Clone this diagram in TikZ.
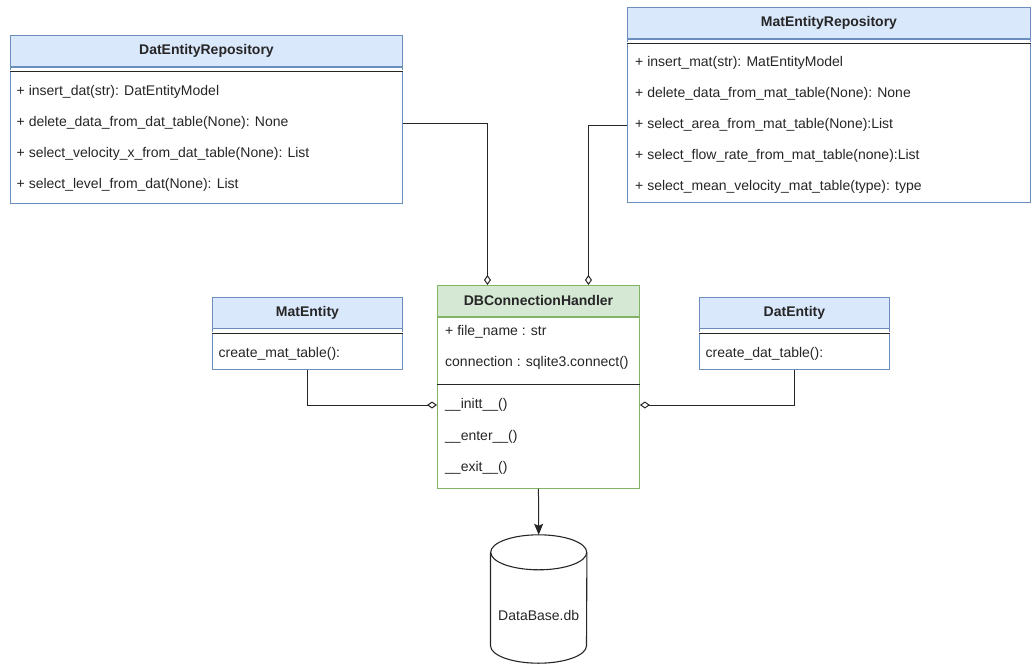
\documentclass[tikz,border=0pt]{standalone}
\usepackage{fontspec}
\setmainfont{Liberation Sans}
\usetikzlibrary{arrows.meta}

\definecolor{hdblue}{HTML}{DAE8FC}
\definecolor{lnblue}{HTML}{6C8EBF}
\definecolor{hdgreen}{HTML}{D5E8D4}
\definecolor{lngreen}{HTML}{82B366}
\definecolor{ink}{HTML}{262626}

\begin{document}
\begin{tikzpicture}[x=1pt,y=1pt]
\tikzset{every node/.style={font=\fontsize{14}{16}\selectfont, text=ink, inner sep=0pt}}
\tikzset{classhead/.style={anchor=north west, line width=0.9pt, font=\fontsize{14}{16}\selectfont\bfseries}}
\tikzset{bluehead/.style={classhead, draw=lnblue, fill=hdblue}}
\tikzset{greenhead/.style={classhead, draw=lngreen, fill=hdgreen}}
\tikzset{classbody/.style={anchor=north west, line width=0.9pt, fill=white}}
\tikzset{row/.style={anchor=west, text height=10pt, text depth=3pt}}
\tikzset{sepline/.style={draw=ink, line width=0.7pt, double=white, double distance=0.9pt}}
\tikzset{aggr/.style={draw=ink, line width=1pt, -{Diamond[open, length=10pt, width=7pt]}}}
\useasboundingbox (0,0) rectangle (1035,-664);

% DatEntityRepository
\node[bluehead, minimum width=392pt, minimum height=31pt] (darhead) at (10,-35) {DatEntityRepository};
\node[classbody, draw=lnblue, minimum width=392pt, minimum height=136pt] (darbody) at (darhead.south west) {};
\draw[sepline] ([yshift=-4pt]darbody.north west) -- ([yshift=-4pt]darbody.north east);
\node[row] (dar1) at (16.5,-92) {+ insert\_dat(str): DatEntityModel};
\node[row] (dar2) at (16.5,-123) {+ delete\_data\_from\_dat\_table(None): None};
\node[row] (dar3) at (16.5,-154) {+ select\_velocity\_x\_from\_dat\_table(None): List};
\node[row] (dar4) at (16.5,-185) {+ select\_level\_from\_dat(None): List};

% MatEntityRepository
\node[bluehead, minimum width=403pt, minimum height=31pt] (marhead) at (627,-7) {MatEntityRepository};
\node[classbody, draw=lnblue, minimum width=403pt, minimum height=163pt] (marbody) at (marhead.south west) {};
\draw[sepline] ([yshift=-4pt]marbody.north west) -- ([yshift=-4pt]marbody.north east);
\node[row] (mar1) at (635,-63) {+ insert\_mat(str): MatEntityModel};
\node[row] (mar2) at (635,-94) {+ delete\_data\_from\_mat\_table(None): None};
\node[row] (mar3) at (635,-125) {+ select\_area\_from\_mat\_table(None):List};
\node[row] (mar4) at (635,-156) {+ select\_flow\_rate\_from\_mat\_table(none):List};
\node[row] (mar5) at (635,-187) {+ select\_mean\_velocity\_mat\_table(type): type};

% MatEntity
\node[bluehead, minimum width=190pt, minimum height=30.5pt] (mehead) at (212,-297) {MatEntity};
\node[classbody, draw=lnblue, minimum width=190pt, minimum height=41pt] (mebody) at (mehead.south west) {};
\draw[sepline] ([yshift=-4.5pt]mebody.north west) -- ([yshift=-4.5pt]mebody.north east);
\node[row] (me1) at (218.5,-353.5) {create\_mat\_table():};

% DatEntity
\node[bluehead, minimum width=190pt, minimum height=30.5pt] (dehead) at (699,-297) {DatEntity};
\node[classbody, draw=lnblue, minimum width=190pt, minimum height=41pt] (debody) at (dehead.south west) {};
\draw[sepline] ([yshift=-4.5pt]debody.north west) -- ([yshift=-4.5pt]debody.north east);
\node[row] (de1) at (705.5,-354) {create\_dat\_table():};

% DBConnectionHandler
\node[greenhead, minimum width=202pt, minimum height=31pt] (dbhead) at (437,-285) {DBConnectionHandler};
\node[classbody, draw=lngreen, minimum width=202pt, minimum height=171pt] (dbbody) at (dbhead.south west) {};
\draw[draw=ink, line width=1pt] (dbbody.west |- 0,-384) -- (dbbody.east |- 0,-384);
\node[row] (dba1) at (445,-332) {+ file\_name : str};
\node[row] (dba2) at (445,-363) {connection : sqlite3.connect()};
\node[row] (dbm1) at (445,-405) {\_\_initt\_\_()};
\node[row] (dbm2) at (445,-437) {\_\_enter\_\_()};
\node[row] (dbm3) at (445,-468) {\_\_exit\_\_()};

% database file
\node[minimum width=96pt, minimum height=128pt] (dbfile) at (538.7,-599) {};
\draw[draw=ink, line width=1.1pt] ([yshift=-17.5pt]dbfile.north) ellipse [x radius=48pt, y radius=17.5pt];
\draw[draw=ink, line width=1.1pt] ([yshift=-17.5pt]dbfile.north west) -- ([yshift=17.5pt]dbfile.south west)
  arc[start angle=180, end angle=360, x radius=48pt, y radius=17.5pt] -- ([yshift=-17.5pt]dbfile.north east);
\node (dbname) at ([yshift=-16pt]dbfile.center) {DataBase.db};

% connectors
\draw[aggr] (darbody.east |- dar2) -| ([xshift=-51pt]dbhead.north);
\draw[aggr] (marbody.west |- mar3) -| ([xshift=50pt]dbhead.north);
\draw[aggr] (mebody.south) |- (dbbody.west |- dbm1);
\draw[aggr] (debody.south) |- (dbbody.east |- dbm1);
\draw[draw=ink, line width=1pt, -{Stealth[length=11pt, width=9pt, inset=2pt]}] (dbbody.south) -- (dbfile.north);
\end{tikzpicture}
\end{document}
